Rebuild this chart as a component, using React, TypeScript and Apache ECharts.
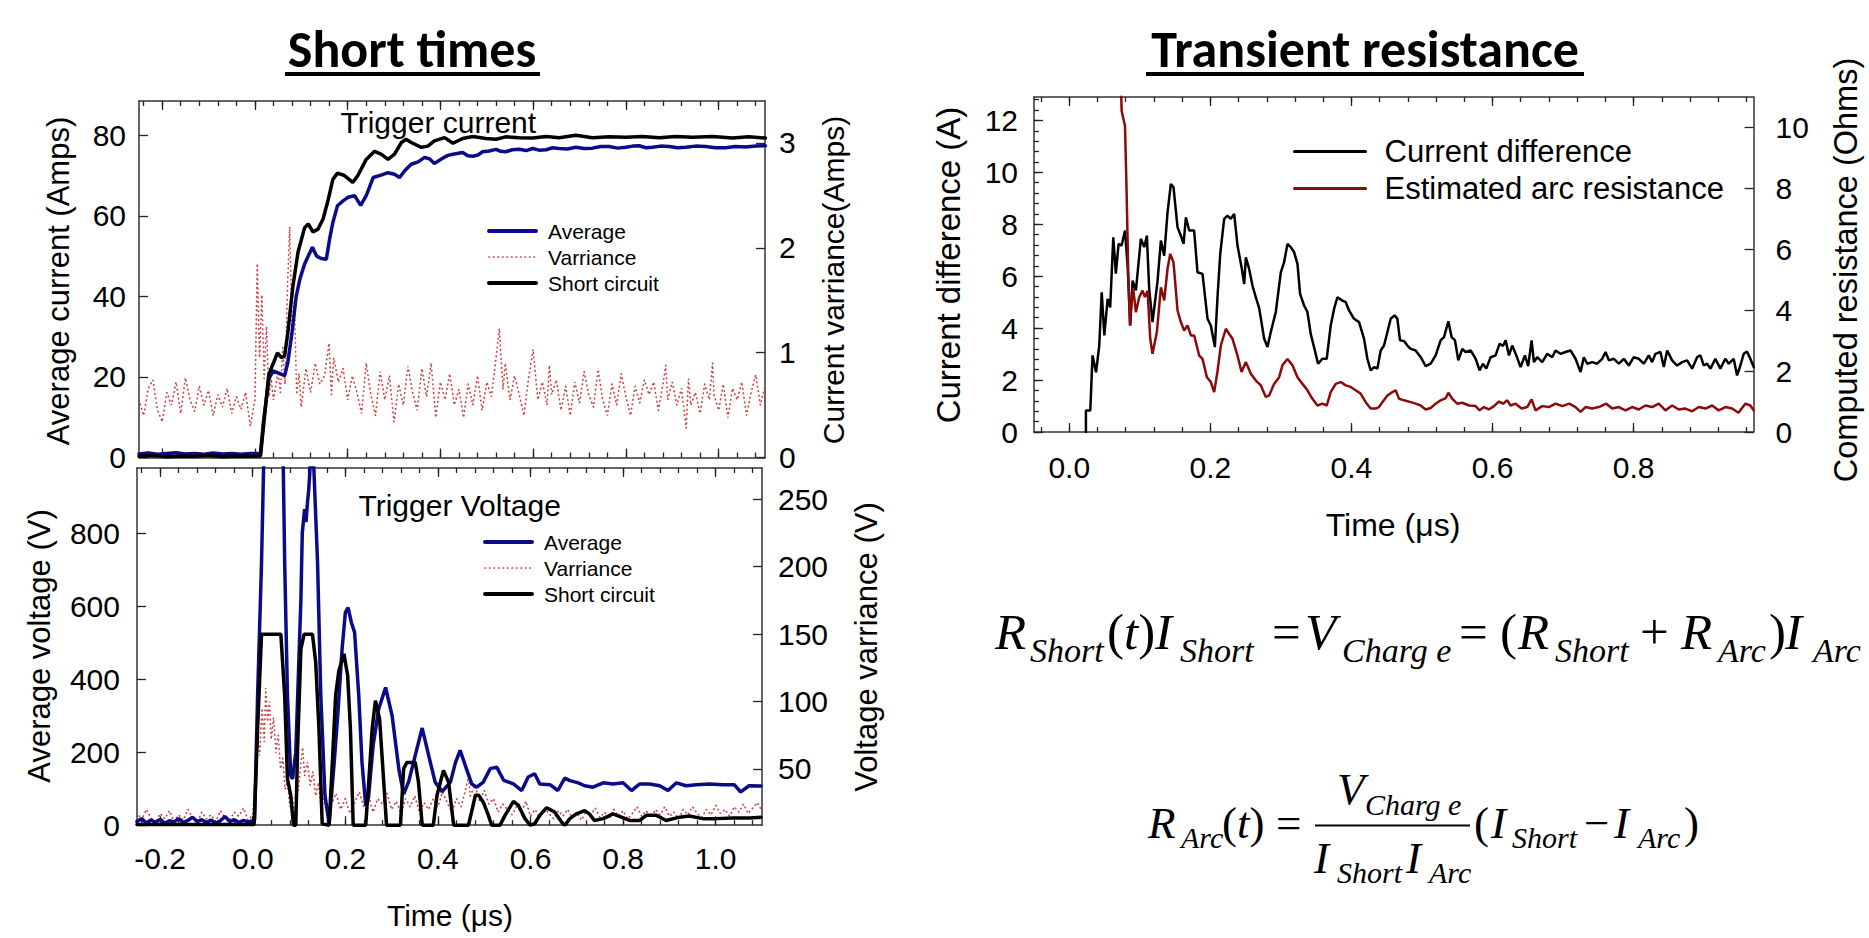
import React, { useEffect, useRef } from "react";
import * as echarts from "echarts";

// ---------------- data ----------------
const xTickLabelsShort = [-0.2, 0, 0.2, 0.4, 0.6, 0.8, 1.0];
const xTickLabelsTransient = [0, 0.2, 0.4, 0.6, 0.8];
const yTicksCurrent = [0, 20, 40, 60, 80];
const yTicksCurrentVar = [0, 1, 2, 3];
const yTicksVoltage = [0, 200, 400, 600, 800];
const yTicksVoltageVar = [50, 100, 150, 200, 250];
const yTicksDiff = [0, 2, 4, 6, 8, 10, 12];
const yTicksOhms = [0, 2, 4, 6, 8, 10];

// Trigger current (Amps) – average
const avgCurrent = [
  [-0.25, 0.9], [-0.23, 1.1], [-0.21, 0.8], [-0.19, 1.0], [-0.17, 1.2], [-0.15, 0.9], [-0.13, 1.0], [-0.11, 0.8],
  [-0.09, 1.1], [-0.07, 0.9], [-0.05, 1.0], [-0.03, 0.8], [-0.01, 1.0], [0.012, 1.0], [0.018, 8.5], [0.03, 19.5],
  [0.039, 21.5], [0.05, 21.0], [0.064, 20.3], [0.071, 23.6], [0.08, 31.0], [0.089, 40.0], [0.097, 44.3], [0.107, 48.0],
  [0.115, 50.0], [0.124, 52.2], [0.133, 50.0], [0.143, 49.4], [0.154, 49.2], [0.161, 54.2], [0.168, 58.3], [0.178, 62.5],
  [0.19, 63.7], [0.201, 64.6], [0.215, 65.0], [0.228, 62.6], [0.24, 65.0], [0.255, 69.5], [0.272, 70.1], [0.287, 70.7],
  [0.301, 70.3], [0.312, 69.5], [0.323, 71.2], [0.337, 72.8], [0.352, 73.4], [0.366, 74.5], [0.377, 74.1], [0.387, 73.0],
  [0.402, 74.1], [0.416, 75.0], [0.427, 75.3], [0.448, 75.7], [0.459, 74.9], [0.47, 74.8], [0.481, 75.1], [0.491, 75.9],
  [0.505, 76.1], [0.52, 76.5], [0.53, 76.0], [0.541, 75.9], [0.555, 76.4], [0.57, 76.5], [0.585, 76.2], [0.599, 76.7],
  [0.613, 76.3], [0.628, 76.4], [0.642, 76.9], [0.656, 76.7], [0.674, 76.6], [0.692, 77.0], [0.71, 76.7], [0.728, 76.8],
  [0.746, 77.2], [0.764, 77.2], [0.782, 76.8], [0.8, 77.0], [0.815, 77.3], [0.829, 77.4], [0.843, 76.9], [0.857, 77.0],
  [0.875, 77.3], [0.893, 77.2], [0.911, 76.9], [0.929, 77.0], [0.95, 77.3], [0.972, 77.2], [0.993, 76.9], [1.015, 76.9],
  [1.036, 77.2], [1.058, 77.1], [1.08, 77.3], [1.101, 77.4],
];

// Trigger current (Amps) – short circuit
const shortCurrent = [
  [-0.25, 0.3], [-0.22, 0.5], [-0.19, 0.2], [-0.16, 0.4], [-0.13, 0.3], [-0.1, 0.5], [-0.07, 0.2], [-0.04, 0.4],
  [-0.01, 0.3], [0.012, 0.4], [0.03, 20.7], [0.039, 23.2], [0.0485, 26.0], [0.057, 24.8], [0.064, 25.2], [0.071, 31.0],
  [0.082, 42.6], [0.093, 51.0], [0.1, 54.0], [0.107, 57.0], [0.115, 58.0], [0.125, 56.0], [0.136, 56.7], [0.147, 59.2],
  [0.158, 64.0], [0.168, 69.0], [0.178, 70.6], [0.193, 70.0], [0.211, 68.3], [0.222, 70.0], [0.24, 74.0], [0.258, 76.0],
  [0.272, 75.3], [0.287, 74.0], [0.301, 75.3], [0.316, 78.2], [0.326, 79.0], [0.337, 78.2], [0.359, 77.0], [0.373, 77.3],
  [0.387, 78.6], [0.409, 79.4], [0.427, 78.0], [0.448, 79.2], [0.47, 79.7], [0.498, 79.2], [0.52, 79.0], [0.541, 79.6],
  [0.57, 79.4], [0.599, 79.3], [0.628, 79.7], [0.656, 79.4], [0.692, 80.0], [0.728, 79.4], [0.764, 79.6], [0.8, 79.5],
  [0.836, 79.7], [0.872, 79.4], [0.908, 79.7], [0.944, 79.5], [0.987, 79.7], [1.03, 79.3], [1.065, 79.6], [1.101, 79.3],
];

// Current variance (Amps), right axis
const currentVariance = [
  [-0.25, 0.55], [-0.24, 0.4], [-0.23, 0.66], [-0.22, 0.74], [-0.21, 0.45], [-0.2, 0.34], [-0.19, 0.62], [-0.18, 0.5],
  [-0.17, 0.72], [-0.16, 0.42], [-0.15, 0.76], [-0.14, 0.55], [-0.13, 0.44], [-0.12, 0.68], [-0.11, 0.5], [-0.1, 0.64],
  [-0.09, 0.4], [-0.08, 0.6], [-0.07, 0.48], [-0.06, 0.66], [-0.05, 0.42], [-0.04, 0.58], [-0.03, 0.46], [-0.02, 0.62],
  [-0.01, 0.3], [0.0, 0.55], [0.005, 1.85], [0.01, 0.95], [0.015, 1.55], [0.02, 0.75], [0.025, 1.25], [0.03, 0.58],
  [0.035, 0.75], [0.04, 0.55], [0.05, 0.82], [0.055, 0.62], [0.06, 1.05], [0.065, 0.7], [0.07, 1.6], [0.075, 2.2],
  [0.08, 1.2], [0.085, 1.5], [0.09, 0.6], [0.095, 0.8], [0.1, 0.48], [0.11, 0.85], [0.12, 0.62], [0.13, 0.9],
  [0.14, 0.7], [0.15, 0.78], [0.16, 1.09], [0.165, 0.6], [0.17, 0.95], [0.18, 0.72], [0.19, 0.85], [0.2, 0.55],
  [0.21, 0.78], [0.22, 0.62], [0.23, 0.42], [0.24, 0.9], [0.25, 0.6], [0.26, 0.4], [0.27, 0.82], [0.28, 0.55],
  [0.29, 0.78], [0.3, 0.34], [0.31, 0.7], [0.32, 0.5], [0.33, 0.87], [0.34, 0.62], [0.35, 0.45], [0.36, 0.85],
  [0.37, 0.58], [0.38, 0.9], [0.39, 0.38], [0.4, 0.72], [0.41, 0.55], [0.42, 0.8], [0.43, 0.5], [0.44, 0.65],
  [0.45, 0.38], [0.46, 0.7], [0.47, 0.5], [0.48, 0.78], [0.49, 0.45], [0.5, 0.72], [0.51, 0.58], [0.52, 0.95],
  [0.527, 1.23], [0.535, 0.65], [0.54, 0.9], [0.55, 0.55], [0.56, 0.78], [0.57, 0.6], [0.58, 0.4], [0.59, 0.75],
  [0.6, 1.03], [0.61, 0.55], [0.62, 0.72], [0.63, 0.5], [0.635, 0.88], [0.64, 0.6], [0.65, 0.74], [0.66, 0.45],
  [0.67, 0.68], [0.68, 0.4], [0.69, 0.72], [0.7, 0.52], [0.71, 0.82], [0.72, 0.6], [0.73, 0.48], [0.74, 0.84],
  [0.75, 0.55], [0.76, 0.4], [0.77, 0.7], [0.78, 0.5], [0.79, 0.8], [0.8, 0.58], [0.81, 0.4], [0.82, 0.68],
  [0.83, 0.52], [0.84, 0.74], [0.85, 0.6], [0.86, 0.72], [0.87, 0.45], [0.88, 0.7], [0.886, 0.88], [0.89, 0.55],
  [0.9, 0.72], [0.91, 0.5], [0.92, 0.66], [0.93, 0.28], [0.935, 0.75], [0.94, 0.5], [0.95, 0.62], [0.96, 0.42],
  [0.97, 0.7], [0.98, 0.55], [0.987, 0.9], [0.99, 0.6], [1.0, 0.45], [1.01, 0.7], [1.02, 0.38], [1.03, 0.66],
  [1.04, 0.55], [1.05, 0.72], [1.06, 0.4], [1.07, 0.62], [1.08, 0.79], [1.09, 0.5], [1.1, 0.68],
];

// Trigger voltage (V) – average
const avgVoltage = [
  [-0.25, 10], [-0.24, 18], [-0.23, 6], [-0.22, 14], [-0.21, 8], [-0.2, 16], [-0.19, 5], [-0.18, 12], [-0.17, 9],
  [-0.16, 18], [-0.15, 7], [-0.14, 13], [-0.13, 22], [-0.12, 10], [-0.11, 15], [-0.1, 8], [-0.09, 14], [-0.08, 6],
  [-0.07, 12], [-0.06, 24], [-0.05, 10], [-0.04, 15], [-0.03, 8], [-0.02, 13], [-0.01, 9], [0.0, 12], [0.004, 15],
  [0.0105, 355], [0.019, 719], [0.0234, 976], [0.03, 1250], [0.045, 1450], [0.058, 1250], [0.066, 976], [0.069, 719],
  [0.075, 355], [0.082, 136], [0.086, 127], [0.093, 200], [0.104, 617], [0.107, 800], [0.112, 865], [0.115, 830],
  [0.118, 880], [0.121, 920], [0.128, 1060], [0.132, 976], [0.14, 719], [0.147, 355], [0.156, 82], [0.165, 4],
  [0.176, 172], [0.184, 309], [0.193, 482], [0.2, 582], [0.206, 596], [0.213, 555], [0.22, 528], [0.229, 355],
  [0.236, 172], [0.244, 54], [0.25, 75], [0.26, 218], [0.272, 318], [0.287, 377], [0.301, 300], [0.316, 150],
  [0.326, 85], [0.337, 120], [0.351, 191], [0.366, 266], [0.38, 191], [0.394, 118], [0.409, 92], [0.427, 118],
  [0.438, 172], [0.448, 205], [0.459, 164], [0.473, 113], [0.484, 104], [0.498, 118], [0.513, 155], [0.527, 159],
  [0.542, 123], [0.563, 113], [0.581, 95], [0.595, 132], [0.609, 141], [0.62, 113], [0.642, 111], [0.659, 95],
  [0.674, 129], [0.685, 122], [0.703, 116], [0.717, 108], [0.735, 104], [0.757, 116], [0.778, 113], [0.8, 116],
  [0.818, 95], [0.836, 113], [0.857, 113], [0.879, 108], [0.897, 95], [0.915, 116], [0.936, 108], [0.958, 111],
  [0.987, 113], [1.015, 111], [1.04, 111], [1.054, 91], [1.072, 108], [1.098, 107],
];

// Trigger voltage (V) – short circuit
const shortVoltage = [
  [-0.25, 2], [-0.15, 2], [-0.05, 2], [0.003, 2], [0.0105, 264], [0.019, 523], [0.0607, 523], [0.069, 355],
  [0.075, 127], [0.082, 82], [0.088, 0], [0.093, 0], [0.097, 218], [0.104, 482], [0.111, 523], [0.129, 523],
  [0.136, 446], [0.143, 264], [0.15, 4], [0.165, 0], [0.172, 172], [0.179, 355], [0.186, 423], [0.197, 469],
  [0.205, 410], [0.211, 264], [0.217, 0], [0.244, 0], [0.251, 127], [0.258, 264], [0.265, 341], [0.274, 291],
  [0.283, 118], [0.289, 0], [0.319, 0], [0.326, 155], [0.333, 172], [0.351, 172], [0.358, 118], [0.366, 0],
  [0.39, 0], [0.398, 82], [0.412, 150], [0.423, 118], [0.434, 0], [0.466, 0], [0.481, 82], [0.488, 82],
  [0.498, 63], [0.509, 27], [0.516, 0], [0.534, 0], [0.545, 27], [0.563, 65], [0.574, 54], [0.588, 18],
  [0.599, 0], [0.609, 4], [0.62, 27], [0.635, 48], [0.652, 36], [0.667, 9], [0.674, 0], [0.685, 18],
  [0.699, 31], [0.717, 40], [0.727, 31], [0.738, 13], [0.757, 18], [0.778, 31], [0.796, 22], [0.814, 13],
  [0.836, 13], [0.85, 27], [0.872, 27], [0.893, 13], [0.922, 22], [0.943, 25], [0.972, 18], [1.001, 18],
  [1.037, 20], [1.073, 20], [1.098, 22],
];

// Voltage variance (V), right axis
const voltageVariance = [
  [-0.25, 18], [-0.24, 12], [-0.23, 20], [-0.22, 14], [-0.21, 10], [-0.2, 17], [-0.19, 13], [-0.18, 19],
  [-0.17, 11], [-0.16, 16], [-0.15, 12], [-0.14, 20], [-0.13, 14], [-0.12, 10], [-0.11, 18], [-0.1, 13],
  [-0.09, 16], [-0.08, 11], [-0.07, 19], [-0.06, 14], [-0.05, 12], [-0.04, 18], [-0.03, 15], [-0.02, 21],
  [-0.01, 12], [0.0, 16], [0.005, 40], [0.01, 75], [0.015, 60], [0.02, 95], [0.025, 70], [0.028, 110],
  [0.032, 85], [0.036, 100], [0.04, 72], [0.045, 88], [0.05, 62], [0.055, 75], [0.06, 50], [0.065, 58],
  [0.07, 35], [0.075, 42], [0.08, 22], [0.085, 30], [0.09, 18], [0.095, 25], [0.1, 40], [0.105, 58],
  [0.108, 66], [0.112, 45], [0.118, 55], [0.124, 38], [0.13, 48], [0.136, 30], [0.142, 40], [0.147, 22],
  [0.152, 28], [0.16, 18], [0.17, 24], [0.18, 32], [0.19, 20], [0.2, 28], [0.21, 17], [0.22, 25],
  [0.23, 33], [0.24, 22], [0.25, 30], [0.26, 18], [0.27, 28], [0.28, 24], [0.29, 32], [0.3, 20],
  [0.31, 26], [0.32, 17], [0.33, 28], [0.34, 22], [0.35, 30], [0.36, 18], [0.37, 25], [0.38, 20],
  [0.39, 28], [0.4, 22], [0.41, 33], [0.42, 25], [0.43, 18], [0.44, 28], [0.45, 22], [0.46, 35],
  [0.466, 44], [0.47, 30], [0.48, 38], [0.49, 26], [0.5, 34], [0.51, 24], [0.52, 28], [0.53, 18],
  [0.54, 24], [0.55, 20], [0.56, 16], [0.57, 22], [0.58, 18], [0.59, 26], [0.6, 15], [0.61, 20],
  [0.62, 14], [0.63, 21], [0.64, 17], [0.65, 13], [0.66, 19], [0.67, 15], [0.68, 20], [0.69, 14],
  [0.7, 18], [0.71, 12], [0.72, 19], [0.73, 16], [0.74, 21], [0.75, 14], [0.76, 18], [0.77, 13],
  [0.78, 20], [0.79, 15], [0.8, 19], [0.81, 13], [0.82, 17], [0.83, 22], [0.84, 15], [0.85, 19],
  [0.86, 14], [0.87, 20], [0.88, 16], [0.89, 22], [0.9, 15], [0.91, 18], [0.92, 13], [0.93, 20],
  [0.94, 16], [0.95, 22], [0.96, 17], [0.97, 14], [0.98, 20], [0.99, 16], [1.0, 23], [1.01, 17],
  [1.02, 20], [1.03, 15], [1.04, 22], [1.05, 18], [1.06, 24], [1.07, 17], [1.08, 21], [1.09, 25], [1.1, 19],
];

// Transient resistance – current difference (A)
const currentDiff = [
  [0.0236, 0], [0.0236, 0.83], [0.0298, 0.83], [0.033, 2.95], [0.038, 2.3], [0.0425, 3.33], [0.046, 5.38], [0.0497, 3.72],
  [0.0544, 5.13], [0.058, 4.8], [0.0624, 7.5], [0.066, 6.1], [0.0699, 7.24], [0.0742, 7.18], [0.079, 7.76], [0.0827, 6.41],
  [0.0865, 4.1], [0.0898, 5.83], [0.0945, 5.45], [0.1015, 7.44], [0.1063, 7.12], [0.11, 7.56], [0.1133, 5.5], [0.118, 4.23],
  [0.125, 5.77], [0.1299, 7.37], [0.1346, 6.79], [0.1393, 8.46], [0.144, 9.55], [0.1478, 9.42], [0.1535, 7.88], [0.1582, 7.56],
  [0.162, 7.24], [0.1653, 8.27], [0.17, 7.76], [0.177, 7.76], [0.1818, 6.15], [0.1889, 6.09], [0.196, 4.36], [0.2007, 4.1],
  [0.2064, 3.27], [0.21, 5.13], [0.214, 6.86], [0.2196, 8.21], [0.2243, 8.33], [0.229, 8.21], [0.2338, 8.4], [0.2385, 7.18],
  [0.2442, 6.35], [0.248, 5.7], [0.2503, 6.73], [0.255, 6.28], [0.2597, 5.64], [0.2644, 5.19], [0.2692, 4.77], [0.2763, 3.59],
  [0.281, 3.27], [0.2857, 3.85], [0.2928, 4.62], [0.2999, 6.15], [0.3046, 6.54], [0.3093, 7.24], [0.314, 7.12], [0.3188, 6.92],
  [0.3235, 6.47], [0.3272, 5.32], [0.3329, 4.87], [0.3376, 4.62], [0.3423, 3.78], [0.347, 3.27], [0.3527, 2.63], [0.3588, 2.82],
  [0.365, 2.82], [0.3706, 4.1], [0.3754, 4.74], [0.3801, 5.19], [0.3872, 5.06], [0.3919, 5.0], [0.3966, 4.68], [0.4037, 4.36],
  [0.4108, 4.23], [0.4179, 3.59], [0.4226, 2.82], [0.4273, 2.37], [0.4321, 2.5], [0.4368, 2.44], [0.4415, 3.14], [0.4462, 3.33],
  [0.451, 3.85], [0.4557, 4.36], [0.4613, 4.49], [0.4651, 4.36], [0.4689, 3.53], [0.4746, 3.5], [0.4793, 3.33], [0.484, 3.2],
  [0.491, 3.14], [0.4982, 2.88], [0.5053, 2.54], [0.5124, 2.63], [0.5194, 2.95], [0.5265, 3.53], [0.5312, 3.65], [0.5374, 4.26],
  [0.5421, 3.65], [0.5468, 3.53], [0.5515, 2.76], [0.5572, 3.2], [0.5619, 3.08], [0.569, 3.14], [0.5761, 2.82], [0.5817, 2.37],
  [0.5864, 2.63], [0.5912, 2.44], [0.5973, 2.88], [0.6044, 2.95], [0.6101, 3.4], [0.6148, 3.31], [0.6186, 3.53], [0.6233, 2.95],
  [0.628, 3.33], [0.6337, 2.95], [0.6398, 2.5], [0.6459, 2.95], [0.6506, 2.54], [0.6554, 3.53], [0.6587, 2.69], [0.6634, 2.88],
  [0.6705, 2.69], [0.6775, 3.01], [0.6846, 2.88], [0.6894, 3.14], [0.6964, 3.01], [0.7035, 3.08], [0.7106, 3.14], [0.7177, 2.82],
  [0.7248, 2.31], [0.7295, 2.88], [0.7342, 2.63], [0.7413, 2.69], [0.7484, 2.63], [0.7555, 2.82], [0.7602, 3.08], [0.765, 2.76],
  [0.772, 2.82], [0.7791, 2.63], [0.7862, 2.82], [0.7932, 2.56], [0.8003, 2.88], [0.8074, 2.82], [0.8145, 2.63], [0.8216, 2.95],
  [0.8263, 2.69], [0.831, 3.01], [0.8381, 3.08], [0.8428, 2.5], [0.8476, 3.14], [0.8546, 2.76], [0.8617, 2.56], [0.8688, 2.69],
  [0.8759, 2.76], [0.883, 2.44], [0.8901, 2.88], [0.8948, 2.95], [0.8995, 2.56], [0.9042, 2.63], [0.909, 2.44], [0.9159, 2.82],
  [0.923, 2.44], [0.9301, 2.82], [0.9349, 2.63], [0.9419, 2.82], [0.9467, 2.18], [0.9514, 2.56], [0.9561, 3.01], [0.9608, 3.1],
  [0.9655, 2.82], [0.9703, 2.5],
];

// Transient resistance – estimated arc resistance (Ohms), right axis
const arcResistance = [
  [0.0718, 13], [0.0742, 10.55], [0.079, 10.05], [0.0813, 7.87], [0.0837, 5.14], [0.086, 3.5], [0.0874, 4.04], [0.0907, 4.7],
  [0.0945, 3.93], [0.0992, 4.43], [0.1039, 4.64], [0.1072, 4.43], [0.111, 4.64], [0.1148, 3.06], [0.118, 2.57], [0.1242, 3.28],
  [0.1299, 4.75], [0.1346, 4.32], [0.1393, 5.36], [0.1431, 5.85], [0.1478, 5.57], [0.1535, 3.99], [0.1582, 3.61], [0.1629, 3.33],
  [0.1676, 3.5], [0.1724, 3.17], [0.1771, 3.17], [0.1842, 2.51], [0.1889, 2.4], [0.1951, 1.8], [0.2007, 1.64], [0.2054, 1.31],
  [0.21, 1.97], [0.2149, 2.84], [0.222, 3.39], [0.2267, 3.22], [0.2314, 3.06], [0.2385, 2.51], [0.2442, 1.97], [0.2503, 2.3],
  [0.2574, 1.91], [0.2645, 1.69], [0.2716, 1.53], [0.2787, 1.15], [0.2834, 1.2], [0.2904, 1.58], [0.2975, 1.8], [0.3022, 2.19],
  [0.3093, 2.4], [0.3164, 2.19], [0.3235, 1.8], [0.3306, 1.58], [0.3376, 1.37], [0.3447, 1.09], [0.3518, 0.87], [0.3588, 0.93],
  [0.365, 0.87], [0.3706, 1.31], [0.3777, 1.58], [0.3848, 1.64], [0.3919, 1.53], [0.399, 1.48], [0.406, 1.37], [0.4131, 1.26],
  [0.4202, 0.98], [0.4273, 0.77], [0.4344, 0.77], [0.4391, 0.82], [0.4439, 0.98], [0.451, 1.2], [0.458, 1.31], [0.4627, 1.37],
  [0.4675, 1.09], [0.4746, 1.04], [0.484, 0.98], [0.4911, 0.93], [0.4982, 0.87], [0.5053, 0.74], [0.5124, 0.79], [0.5194, 0.93],
  [0.5265, 1.04], [0.5336, 1.11], [0.5374, 1.29], [0.543, 1.09], [0.55, 0.93], [0.5572, 0.96], [0.5666, 0.87], [0.576, 0.85],
  [0.5817, 0.71], [0.5878, 0.82], [0.5949, 0.74], [0.602, 0.85], [0.6091, 1.0], [0.615, 0.93], [0.6209, 1.04], [0.6256, 0.87],
  [0.6327, 0.93], [0.6412, 0.77], [0.6492, 0.82], [0.6554, 1.07], [0.661, 0.71], [0.6705, 0.85], [0.68, 0.82], [0.6894, 0.93],
  [0.699, 0.85], [0.7087, 0.93], [0.7177, 0.82], [0.7248, 0.66], [0.7319, 0.82], [0.7413, 0.77], [0.7507, 0.82], [0.7612, 0.93],
  [0.7697, 0.77], [0.7791, 0.82], [0.7885, 0.71], [0.798, 0.82], [0.8074, 0.74], [0.8168, 0.87], [0.8263, 0.82], [0.8357, 0.93],
  [0.8452, 0.71], [0.8546, 0.87], [0.864, 0.74], [0.8735, 0.77], [0.883, 0.68], [0.8924, 0.82], [0.9018, 0.77], [0.9113, 0.87],
  [0.9207, 0.71], [0.9301, 0.82], [0.9396, 0.77], [0.9486, 0.63], [0.9584, 0.93], [0.9655, 0.87], [0.9703, 0.71],
];

// ---------------- styling ----------------
const SANS = '"Liberation Sans", Arial, Helvetica, sans-serif';
const SERIF = '"Liberation Serif", "Times New Roman", serif';
const TITLE_FONT = 'Carlito, Calibri, Lato, "Open Sans", sans-serif';
const BLUE = "#0b0b8a";
const DOT_RED = "#cc4444";
const DARK_RED = "#8b0a0a";
const FRAME = "#333333";

function steps(a: number, b: number, s: number) {
  const out: number[] = [];
  for (let i = 0; a + i * s <= b + 1e-9; i++) out.push(+(a + i * s).toFixed(4));
  return out;
}
const fmt1 = (v: number) => (Math.abs(v) < 1e-9 ? 0 : v).toFixed(1);
const fmt0 = (v: number) => String(Math.round(v));

function buildOption() {
  const xAxis: any[] = [];
  const yAxis: any[] = [];
  const tickStyle = { color: "#222", width: 1.3 };
  const lineOn = { show: true, onZero: false, lineStyle: { color: FRAME, width: 1.5 } };
  const lineOff = { show: false, onZero: false };

  const xGroup = (grid: number, min: number, max: number, majors: number[], minors: number[], showLabels: boolean, margin: number) => {
    const base = { type: "value", gridIndex: grid, min, max, splitLine: { show: false }, silent: true };
    xAxis.push({
      ...base, position: "bottom", axisLine: lineOn,
      axisTick: { show: true, inside: true, length: 9, customValues: majors, lineStyle: tickStyle },
      axisLabel: { show: showLabels, customValues: majors, formatter: fmt1, fontSize: 30, color: "#000", fontFamily: SANS, margin },
    });
    const idx = xAxis.length - 1;
    xAxis.push({ ...base, position: "bottom", axisLine: lineOff,
      axisTick: { show: true, inside: true, length: 5, customValues: minors, lineStyle: tickStyle }, axisLabel: { show: false } });
    xAxis.push({ ...base, position: "top", axisLine: lineOn,
      axisTick: { show: true, inside: true, length: 9, customValues: majors, lineStyle: tickStyle }, axisLabel: { show: false } });
    xAxis.push({ ...base, position: "top", axisLine: lineOff,
      axisTick: { show: true, inside: true, length: 5, customValues: minors, lineStyle: tickStyle }, axisLabel: { show: false } });
    return idx;
  };
  const yOne = (grid: number, pos: string, min: number, max: number, majors: number[], margin: number, minors?: number[]) => {
    const base = { type: "value", gridIndex: grid, min, max, splitLine: { show: false }, silent: true, position: pos };
    yAxis.push({
      ...base, axisLine: lineOn,
      axisTick: { show: true, inside: true, length: 9, customValues: majors, lineStyle: tickStyle },
      axisLabel: { show: true, customValues: majors, formatter: fmt0, fontSize: 30, color: "#000", fontFamily: SANS, margin },
    });
    const idx = yAxis.length - 1;
    if (minors) {
      yAxis.push({ ...base, axisLine: lineOff,
        axisTick: { show: true, inside: true, length: 5, customValues: minors, lineStyle: tickStyle }, axisLabel: { show: false } });
    }
    return idx;
  };

  const grid = [
    { left: 139, top: 101, width: 626, height: 356.5 },
    { left: 137, top: 468, width: 625, height: 357.2 },
    { left: 1034, top: 97, width: 719.5, height: 335 },
  ];

  const shortMinors = steps(-0.24, 1.08, 0.04);
  const x0 = xGroup(0, -0.25, 1.1, xTickLabelsShort, shortMinors, false, 18);
  const x1 = xGroup(1, -0.25, 1.1, xTickLabelsShort, shortMinors, true, 18);
  const x2 = xGroup(2, -0.05, 0.97, xTickLabelsTransient, steps(-0.04, 0.96, 0.04), true, 20);

  const y0L = yOne(0, "left", 0, 88.5, yTicksCurrent, 13);
  const y0R = yOne(0, "right", 0, 3.4, yTicksCurrentVar, 14);
  const y1L = yOne(1, "left", 0, 978, yTicksVoltage, 17);
  const y1R = yOne(1, "right", 8.3, 273.2, yTicksVoltageVar, 16);
  const y2L = yOne(2, "left", 0, 12.9, yTicksDiff, 16, steps(0, 12.8, 0.4));
  const y2R = yOne(2, "right", 0, 11, yTicksOhms, 22);

  const line = (name: string, xi: number, yi: number, data: number[][], color: string, width: number, type: any, z: number) => ({
    name, type: "line", xAxisIndex: xi, yAxisIndex: yi, data, symbol: "none", showSymbol: false, clip: true, z,
    lineStyle: { color, width, type, cap: "round" }, itemStyle: { color }, emphasis: { disabled: true }, silent: true,
  });

  const series = [
    line("Varriance", x0, y0R, currentVariance, DOT_RED, 1.7, [0.5, 4], 2),
    line("Average", x0, y0L, avgCurrent, BLUE, 3.5, "solid", 3),
    line("Short circuit", x0, y0L, shortCurrent, "#000", 3.5, "solid", 4),
    line("Varriance", x1, y1R, voltageVariance, DOT_RED, 1.7, [0.5, 4], 2),
    line("Average", x1, y1L, avgVoltage, BLUE, 3.5, "solid", 3),
    line("Short circuit", x1, y1L, shortVoltage, "#000", 3.5, "solid", 4),
    line("Current difference", x2, y2L, currentDiff, "#000", 2.5, "solid", 3),
    line("Estimated arc resistance", x2, y2R, arcResistance, DARK_RED, 2.5, "solid", 4),
  ];

  const legendBase = {
    show: true, orient: "vertical", padding: 0, itemGap: 0, selectedMode: false, itemHeight: 14,
    itemStyle: { opacity: 0, borderWidth: 0 },
  };
  const shortLegendData = [
    { name: "Average", lineStyle: { width: 4 } },
    { name: "Varriance", lineStyle: { width: 1.7 } },
    { name: "Short circuit", lineStyle: { width: 4 } },
  ];
  const legend = [
    { ...legendBase, left: 487, top: 218, itemWidth: 47, data: shortLegendData,
      textStyle: { fontSize: 21, lineHeight: 26, fontFamily: SANS, color: "#000", padding: [0, 0, 0, 7] } },
    { ...legendBase, left: 483, top: 529, itemWidth: 47, data: shortLegendData,
      textStyle: { fontSize: 21, lineHeight: 26, fontFamily: SANS, color: "#000", padding: [0, 0, 0, 7] } },
    { ...legendBase, left: 1293, top: 133, itemWidth: 71,
      data: [
        { name: "Current difference", lineStyle: { width: 3 } },
        { name: "Estimated arc resistance", lineStyle: { width: 3 } },
      ],
      textStyle: { fontSize: 31, lineHeight: 37, fontFamily: SANS, color: "#000", padding: [0, 0, 0, 14] } },
  ];

  // --------- graphic: titles, annotations, axis titles, formulas ---------
  const txt = (text: string, x: number, y: number, size: number, opts: any = {}) => ({
    type: "text", x, y, rotation: opts.rotation || 0, silent: true,
    style: {
      text, fill: "#000", fontSize: size, fontFamily: opts.family || SANS, fontWeight: opts.weight || "normal",
      fontStyle: opts.style || "normal",
      align: opts.align || "center", textAlign: opts.align || "center",
      verticalAlign: "middle", textVerticalAlign: "middle",
    },
  });

  const graphic: any[] = [
    txt("Short times", 412, 49, 52, { family: TITLE_FONT, weight: "bold" }),
    { type: "rect", silent: true, shape: { x: 285, y: 72, width: 255, height: 4 }, style: { fill: "#000" } },
    txt("Transient resistance", 1365, 49, 52, { family: TITLE_FONT, weight: "bold" }),
    { type: "rect", silent: true, shape: { x: 1146, y: 72, width: 438, height: 4 }, style: { fill: "#000" } },
    txt("Trigger current", 340.5, 122, 30, { align: "left" }),
    txt("Trigger Voltage", 358.5, 505, 30, { align: "left" }),
    txt("Average current (Amps)", 58.5, 281, 31, { rotation: Math.PI / 2 }),
    txt("Current varriance(Amps)", 833, 280, 30, { rotation: Math.PI / 2 }),
    txt("Average voltage (V)", 39, 646, 31, { rotation: Math.PI / 2 }),
    txt("Voltage varriance (V)", 866, 647, 31, { rotation: Math.PI / 2 }),
    txt("Time (μs)", 450, 915, 30),
    txt("Current difference (A)", 948, 265, 33, { rotation: Math.PI / 2 }),
    txt("Computed resistance (Ohms)", 1846, 270, 32.5, { rotation: Math.PI / 2 }),
    txt("Time (μs)", 1393, 525, 32),
  ];

  // formula tokens: [text, kind, x]; kind v = italic variable, s = italic subscript, o = upright operator, p = "(t)"
  const addFormula = (tokens: any[], base: number, subBase: number, main: number, sub: number) => {
    for (const [t, kind, x] of tokens) {
      const isSub = kind === "s";
      const size = isSub ? sub : main;
      const baseline = isSub ? subBase : base;
      const y = baseline - 0.3375 * size;
      if (kind === "p") {
        graphic.push({
          type: "text", x, y, silent: true,
          style: {
            text: "{u|(}{i|t}{u|)}", fill: "#000", fontSize: size, fontFamily: SERIF,
            align: "left", textAlign: "left", verticalAlign: "middle", textVerticalAlign: "middle",
            rich: {
              u: { fontSize: size, fontFamily: SERIF, fontStyle: "normal", fill: "#000" },
              i: { fontSize: size, fontFamily: SERIF, fontStyle: "italic", fill: "#000" },
            },
          },
        });
      } else {
        graphic.push(txt(t, x, y, size, { family: SERIF, style: kind === "o" ? "normal" : "italic", align: "left" }));
      }
    }
  };

  addFormula([
    ["R", "v", 995], ["Short", "s", 1030], ["(t)", "p", 1107], ["I", "v", 1155], ["Short", "s", 1180],
    ["=", "o", 1272], ["V", "v", 1305], ["Charg e", "s", 1342], ["=", "o", 1459], ["(", "o", 1500],
    ["R", "v", 1518], ["Short", "s", 1555], ["+", "o", 1640], ["R", "v", 1681], ["Arc", "s", 1718],
    [")", "o", 1769], ["I", "v", 1785], ["Arc", "s", 1813],
  ], 649, 662, 51, 34);

  addFormula([
    ["R", "v", 1148], ["Arc", "s", 1181], ["(t)", "p", 1222], ["=", "o", 1276],
    ["(", "o", 1474], ["I", "v", 1491], ["Short", "s", 1512], ["−", "o", 1584], ["I", "v", 1614],
    ["Arc", "s", 1638], [")", "o", 1684],
  ], 838, 848, 45, 30);
  addFormula([["V", "v", 1337], ["Charg e", "s", 1365]], 804, 815, 45, 30);
  addFormula([["I", "v", 1314], ["Short", "s", 1337], ["I", "v", 1406], ["Arc", "s", 1429]], 873, 883, 45, 30);
  graphic.push({ type: "line", silent: true, shape: { x1: 1315, y1: 825.5, x2: 1470, y2: 825.5 }, style: { stroke: "#000", lineWidth: 2 } });

  return {
    animation: false,
    backgroundColor: "#ffffff",
    textStyle: { fontFamily: SANS },
    grid,
    xAxis,
    yAxis,
    legend,
    series,
    graphic: { elements: graphic },
  };
}

export default function App() {
  const ref = useRef<HTMLDivElement>(null);
  useEffect(() => {
    if (!ref.current) return;
    const chart = echarts.init(ref.current, null, { renderer: "svg" });
    chart.setOption(buildOption() as any);
    return () => chart.dispose();
  }, []);
  return (
    <div
      ref={ref}
      style={{ position: "fixed", left: 0, top: 0, width: 1869, height: 938, background: "#fff" }}
    />
  );
}
